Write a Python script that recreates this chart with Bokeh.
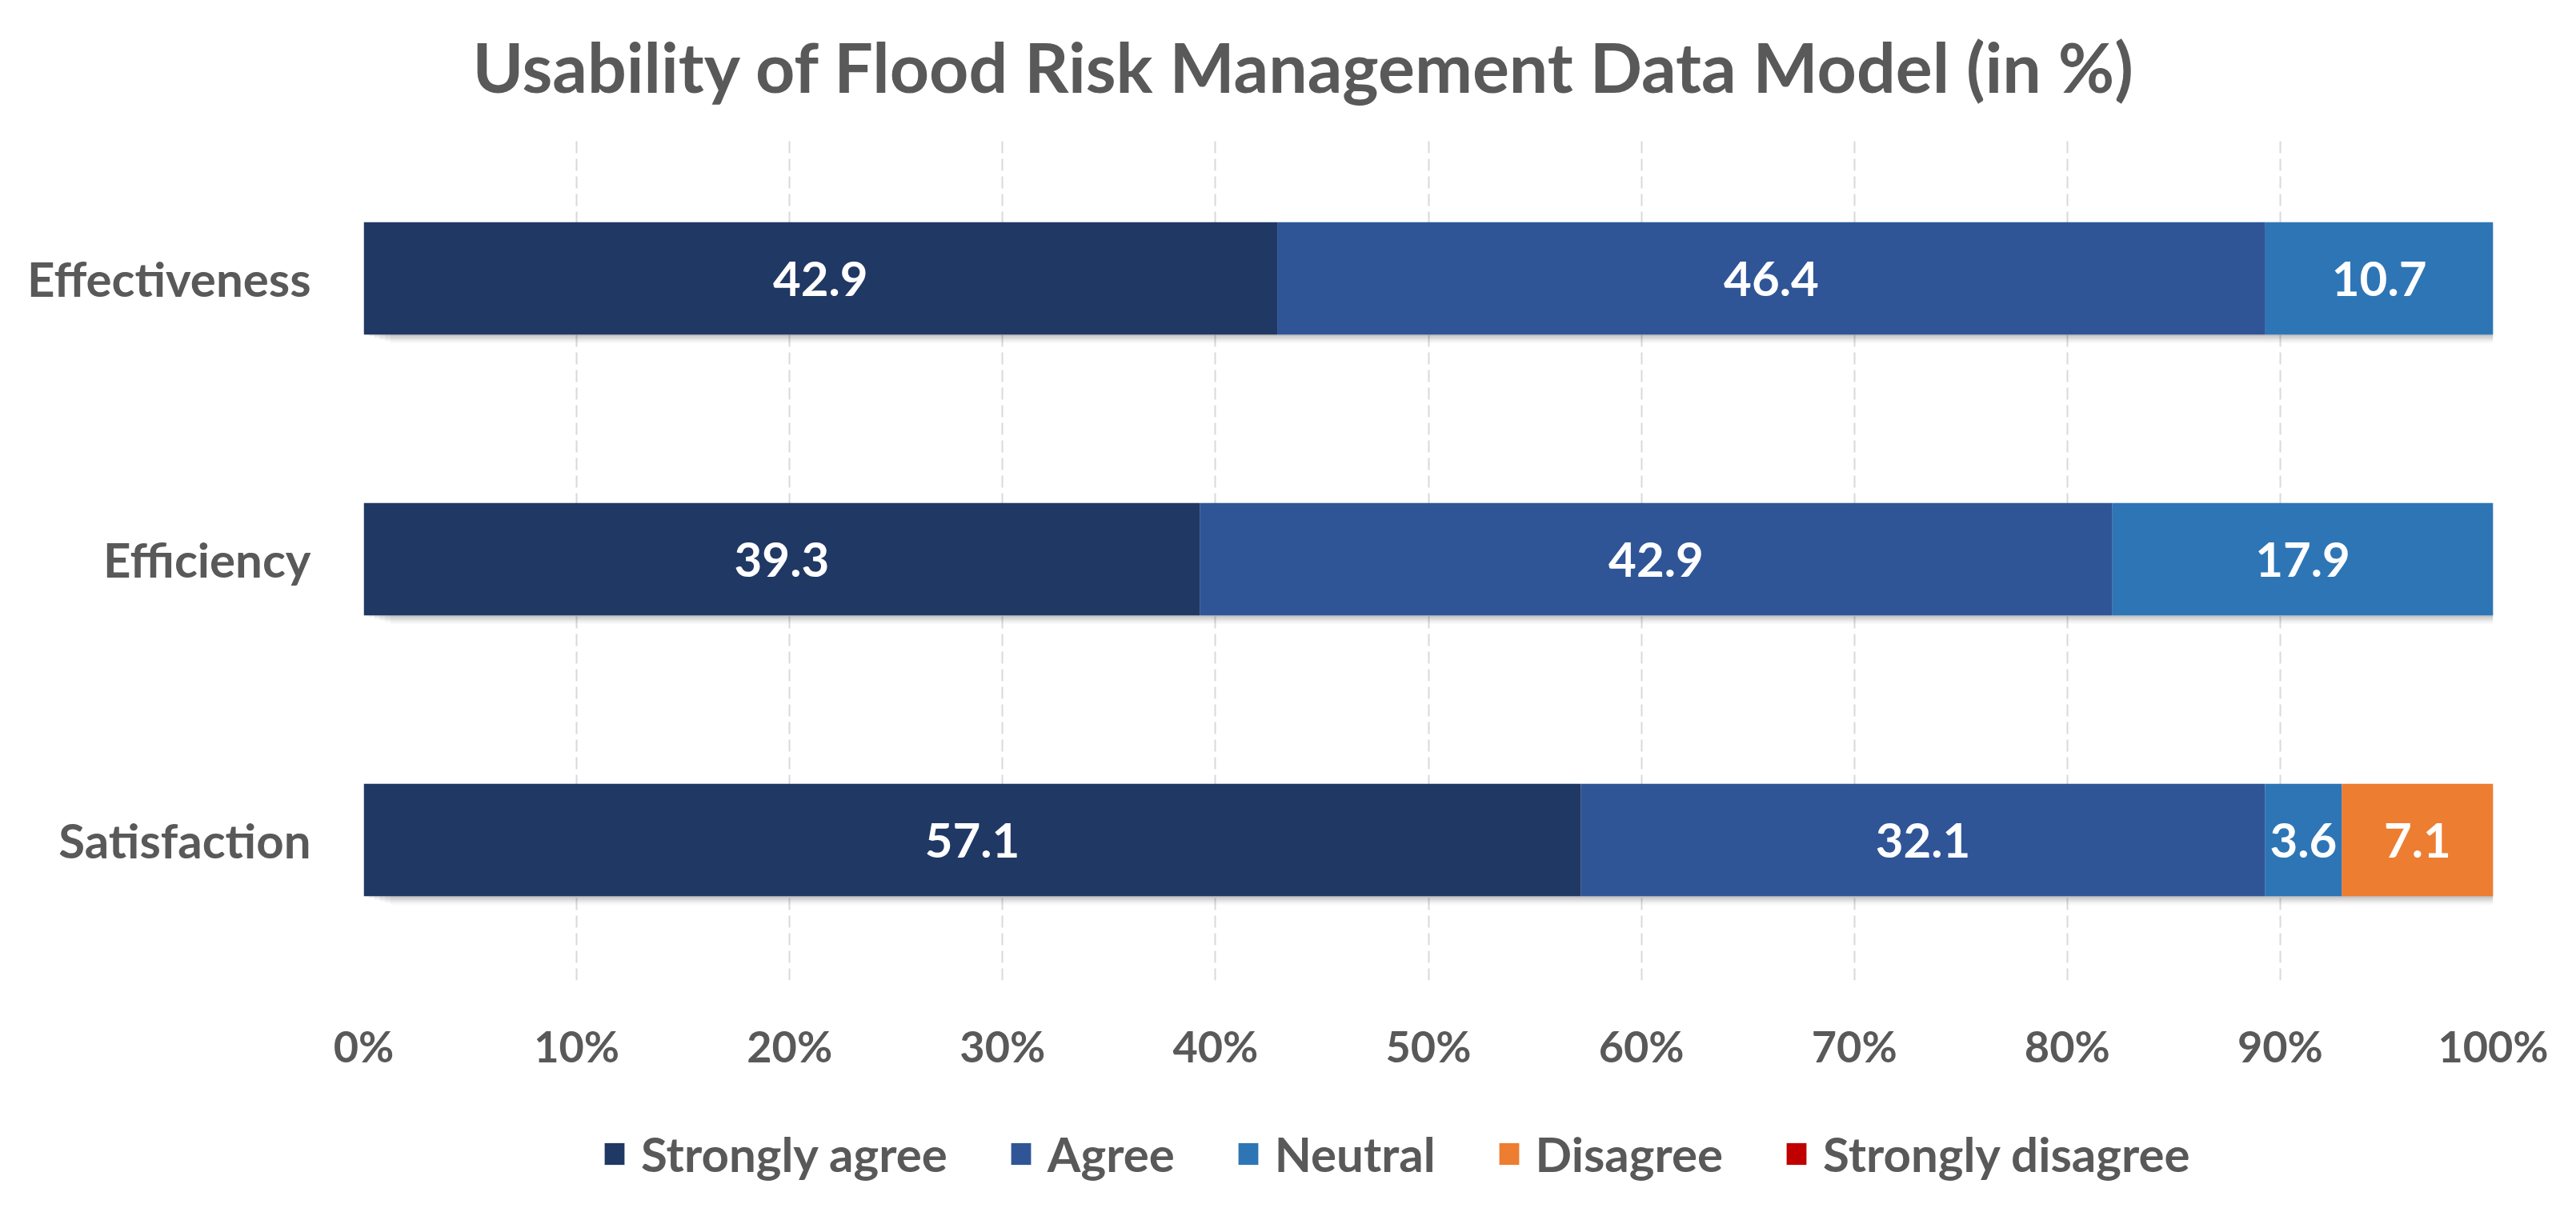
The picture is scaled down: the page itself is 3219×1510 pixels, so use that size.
from bokeh.plotting import figure
from bokeh.models import (ColumnDataSource, FactorRange, Legend, LegendItem, FixedTicker,
                          Title, Range1d)
from bokeh.layouts import column
from bokeh.core.properties import value
from bokeh.embed import file_html
from bokeh.resources import INLINE
from bokeh.transform import dodge

# ---- data ----
categories = ["Effectiveness", "Efficiency", "Satisfaction"]
series = ["Strongly agree", "Agree", "Neutral", "Disagree", "Strongly disagree"]
strongly_agree = [42.9, 39.3, 57.1]
agree = [46.4, 42.9, 32.1]
neutral = [10.7, 17.9, 3.6]
disagree = [0.0, 0.0, 7.1]
strongly_disagree = [0.0, 0.0, 0.0]
colors = ["#203864", "#2F5597", "#2E75B6", "#ED7D31", "#C00000"]
tick_values = [0, 10, 20, 30, 40, 50, 60, 70, 80, 90, 100]
tick_labels = ["0%", "10%", "20%", "30%", "40%", "50%", "60%", "70%", "80%", "90%", "100%"]
title_text = "Usability of Flood Risk Management Data Model (in %)"

all_series = [strongly_agree, agree, neutral, disagree, strongly_disagree]
totals = [sum(s[i] for s in all_series) for i in range(len(categories))]

FONT = "Lato"
GRAY = "#595959"

# ---- title strip ----
p0 = figure(width=3200, height=172, output_backend="svg", toolbar_location=None,
            x_range=Range1d(0, 1), y_range=Range1d(0, 1),
            x_axis_location=None, y_axis_location=None,
            min_border_left=454, min_border_right=85, min_border_top=0, min_border_bottom=0)
p0.outline_line_color = None
p0.grid.visible = False
p0.border_fill_color = "white"
p0.title = Title(text=title_text, align="left", vertical_align="top", text_font_size="86px",
                 text_font=FONT, text_font_style="bold", text_color=GRAY, offset=136, standoff=74)

# ---- main chart ----
p = figure(width=3200, height=1218, output_backend="svg", toolbar_location=None,
           y_range=FactorRange(factors=list(reversed(categories)), range_padding=0),
           x_range=Range1d(0, 100),
           min_border_left=454, min_border_right=85, min_border_top=0, min_border_bottom=165)
p.outline_line_color = None
p.background_fill_color = "white"
p.border_fill_color = "white"

# grid
p.ygrid.grid_line_color = None
p.xgrid.ticker = FixedTicker(ticks=tick_values)
p.xgrid.grid_line_color = "#D9D9D9"
p.xgrid.grid_line_width = 2
p.xgrid.grid_line_dash = "15 7"

# axes
p.xaxis.ticker = FixedTicker(ticks=tick_values)
p.xaxis.major_label_overrides = {v: l for v, l in zip(tick_values, tick_labels)}
for ax in (p.xaxis[0], p.yaxis[0]):
    ax.axis_line_color = None
    ax.major_tick_line_color = None
    ax.minor_tick_line_color = None
    ax.major_tick_out = 0
    ax.major_tick_in = 0
    ax.major_label_text_font = FONT
    ax.major_label_text_font_style = "bold"
    ax.major_label_text_color = GRAY
p.xaxis.major_label_text_font_size = "54px"
p.xaxis.major_label_standoff = 49
p.yaxis.major_label_text_font_size = "60px"
p.yaxis.major_label_standoff = 66

# shadow layers
shadow_src = ColumnDataSource(dict(cat=categories, total=[100.0] * len(categories)))
for k, a in enumerate([0.07, 0.06, 0.05, 0.04, 0.03]):
    p.hbar(y=dodge("cat", -0.006 * (k + 1), range=p.y_range), left=0.25 * (k + 1),
           right="total", height=0.40, source=shadow_src,
           fill_color="black", fill_alpha=a, line_color=None)

# stacked bars (100% normalized)
cum = [0.0] * len(categories)
label_x, label_y, label_t = [], [], []
for name, vals, col in zip(series, all_series, colors):
    left = [cum[i] for i in range(len(categories))]
    right = [cum[i] + vals[i] / totals[i] * 100 for i in range(len(categories))]
    src = ColumnDataSource(dict(cat=categories, left=left, right=right))
    p.hbar(y="cat", left="left", right="right", height=0.40, source=src,
           fill_color=col, line_color=None)
    for i in range(len(categories)):
        if vals[i] > 0:
            label_x.append((left[i] + right[i]) / 2)
            label_y.append(categories[i])
            label_t.append(f"{vals[i]:.1f}")
    cum = right

lab_src = ColumnDataSource(dict(x=label_x, y=label_y, t=label_t))
p.text(x="x", y="y", text="t", source=lab_src, text_align="center", text_baseline="middle",
       text_font=value(FONT), text_font_style="bold", text_font_size="60px", text_color="white")

# ---- legend strip ----
p2 = figure(width=3200, height=104, output_backend="svg", toolbar_location=None,
            x_range=Range1d(0, 1), y_range=Range1d(0, 1),
            x_axis_location=None, y_axis_location=None,
            min_border_left=454, min_border_right=85, min_border_top=0, min_border_bottom=0)
p2.outline_line_color = None
p2.grid.visible = False
p2.border_fill_color = "white"
items = []
for name, col in zip(series, colors):
    # zero-size bar: it only supplies the legend swatch
    r = p2.hbar(y=[0.5], left=[0], right=[0], height=0, fill_color=col, line_color=None)
    items.append(LegendItem(label=name, renderers=[r]))
legend = Legend(items=items, orientation="horizontal", location="left",
                label_text_font=FONT, label_text_font_size="60px", label_text_color=GRAY,
                label_text_font_style="bold",
                glyph_width=31, glyph_height=34, label_standoff=18, spacing=76,
                border_line_color=None, background_fill_alpha=0, margin=298, padding=0)
p2.add_layout(legend, "center")

open("out.html", "w").write(file_html(column(p0, p, p2, spacing=0), INLINE))
